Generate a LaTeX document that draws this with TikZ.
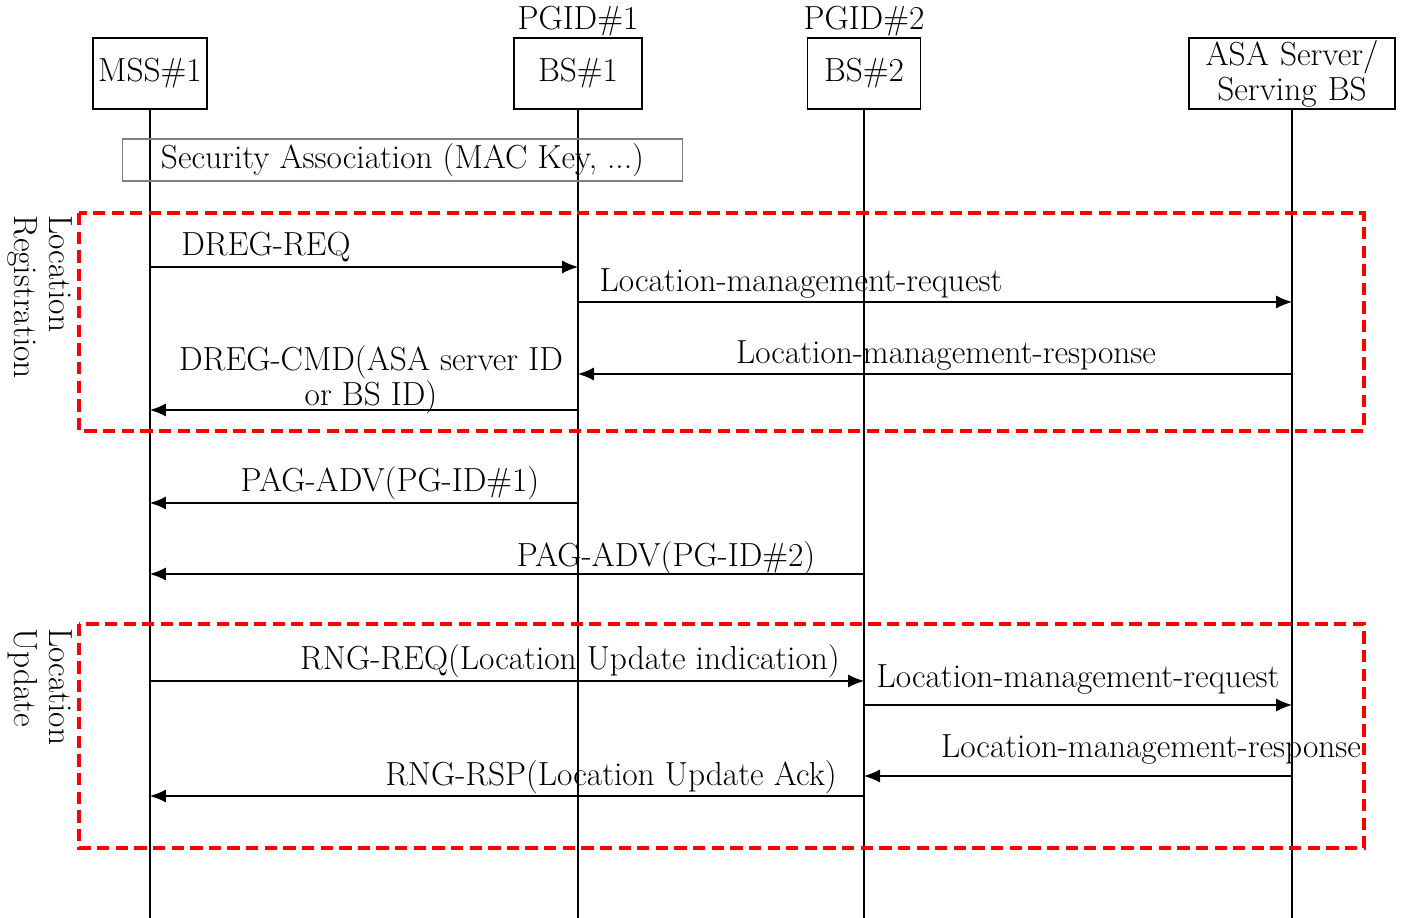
\documentclass[tikz,border=0pt]{standalone}
\usepackage{tikz}
\usetikzlibrary{arrows.meta}
\tikzset{
  entity/.style={draw, line width=0.9pt, minimum height=1.42cm, inner sep=1pt, align=center},
  msg/.style={-{Latex[length=3.2mm,width=2.6mm]}, line width=0.6pt},
  phase/.style={draw=red, line width=1.8pt, dash pattern=on 7pt off 3.6pt},
  side/.style={rotate=-90, anchor=west, align=left, inner sep=0pt},
}
\begin{document}
\begin{tikzpicture}[x=0.02cm, y=-0.02cm]
	\fontsize{19}{20}\selectfont
	\useasboundingbox (0,0) rectangle (1401,918);
	\node [entity, minimum width=2.28cm] (mss) at (150,73.5) {MSS\#1};
	\node [entity, minimum width=2.56cm] (bs1) at (578,73.5) {BS\#1};
	\node [entity, minimum width=2.26cm] (bs2) at (864,73.5) {BS\#2};
	\node [entity, minimum width=4.12cm, text width=3.9cm] (asa) at (1292,73.5) {ASA Server/\\Serving BS};
	\node [anchor=base] (pgid1) at (578,30) {PGID\#1};
	\node [anchor=base] (pgid2) at (864,30) {PGID\#2};
	\foreach \n in {mss,bs1,bs2,asa}
		\draw [line width=0.6pt] (\n.south) -- (\n.south |- 0,918);
	\node [draw=gray, line width=0.6pt, inner sep=0pt, minimum width=11.22cm, minimum height=0.84cm] (sa) at (402.5,160) {Security Association (MAC Key, ...)};
	% location registration
	\draw [phase] (79,213) rectangle (1364,431);
	\node [side] (locreg) at (40,215) {Location\\Registration};
	\draw [msg] (mss |- 0,267) -- (bs1 |- 0,267);
	\node [anchor=base] (dregreq) at (266,256) {DREG-REQ};
	\draw [msg] (bs1 |- 0,302) -- (asa |- 0,302);
	\node [anchor=base] (lmreq1) at (801,292) {Location-management-request};
	\draw [msg] (asa |- 0,374) -- (bs1 |- 0,374);
	\node [anchor=base] (lmrsp1) at (946,364) {Location-management-response};
	\draw [msg] (bs1 |- 0,410) -- (mss |- 0,410);
	\node [align=center] (dregcmd) at (371,380) {DREG-CMD(ASA server ID\\or BS ID)};
	% paging
	\draw [msg] (bs1 |- 0,503) -- (mss |- 0,503);
	\node [anchor=base] (pagadv1) at (390,492) {PAG-ADV(PG-ID\#1)};
	\draw [msg] (bs2 |- 0,574) -- (mss |- 0,574);
	\node [anchor=base] (pagadv2) at (666,567) {PAG-ADV(PG-ID\#2)};
	% location update
	\draw [phase] (79,624) rectangle (1364,848);
	\node [side] (locupd) at (40,628) {Location\\Update};
	\draw [msg] (mss |- 0,681) -- (bs2 |- 0,681);
	\node [anchor=base] (rngreq) at (570,670) {RNG-REQ(Location Update indication)};
	\draw [msg] (bs2 |- 0,705) -- (asa |- 0,705);
	\node [anchor=base] (lmreq2) at (1078,688) {Location-management-request};
	\draw [msg] (asa |- 0,776) -- (bs2 |- 0,776);
	\node [anchor=base] (lmrsp2) at (1151,758) {Location-management-response};
	\draw [msg] (bs2 |- 0,796) -- (mss |- 0,796);
	\node [anchor=base] (rngrsp) at (611,786) {RNG-RSP(Location Update Ack)};
\end{tikzpicture}
\end{document}
